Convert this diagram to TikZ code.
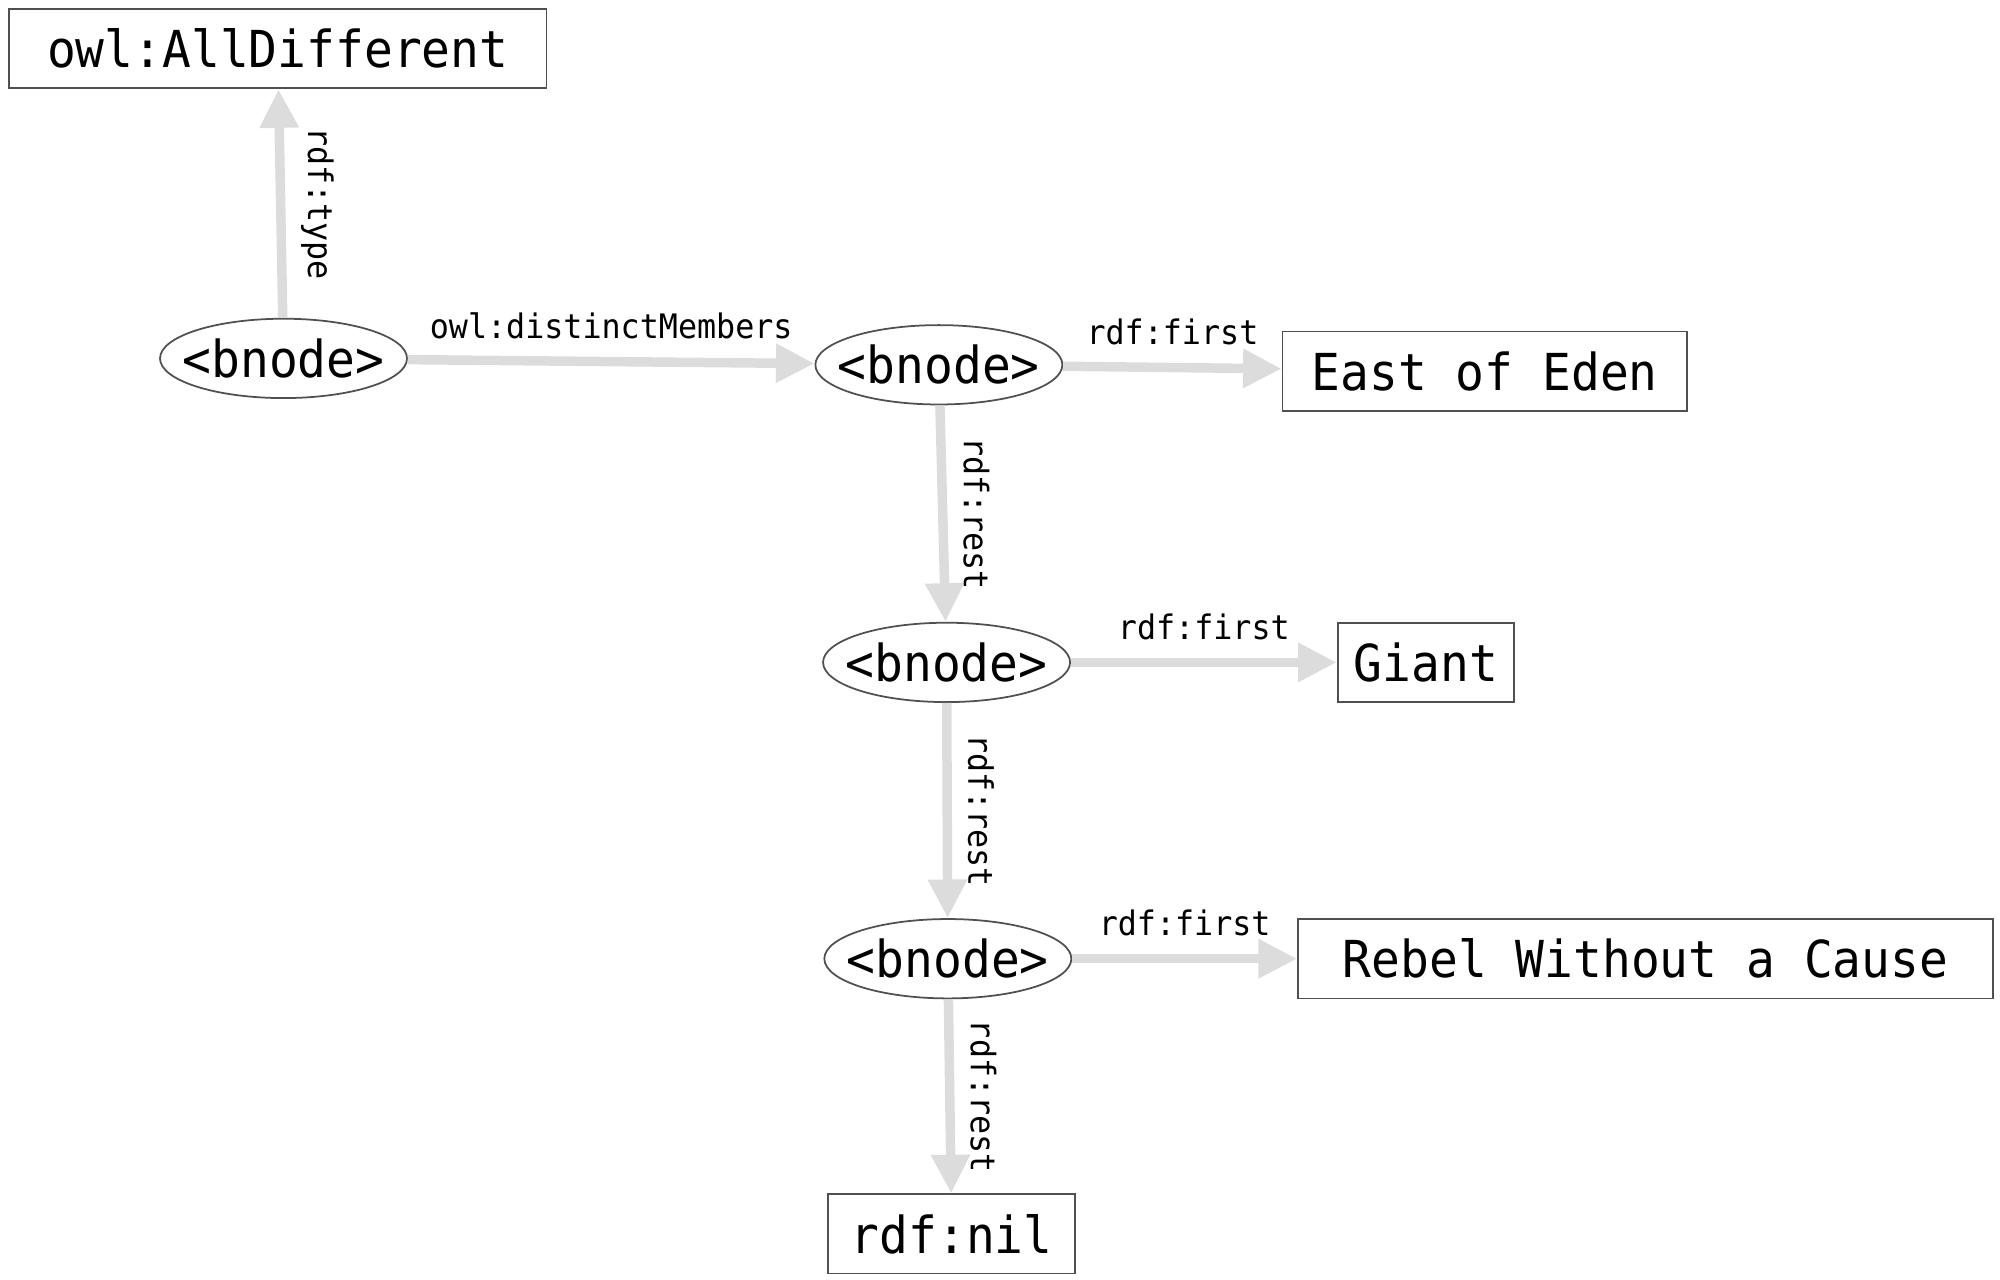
\documentclass[tikz,border=0pt]{standalone}
\usepackage{fontspec}
\newfontfamily\monofam[FakeStretch=0.94]{DejaVu Sans Mono}
\usetikzlibrary{arrows.meta,shapes.geometric}
\definecolor{edgegray}{HTML}{DCDCDC}
\definecolor{bordergray}{HTML}{505050}
\newcommand{\bn}{\makebox[0pt]{<bnode>}}
\begin{document}
\begin{tikzpicture}[x=0.0128cm, y=-0.0128cm,
  box/.style={draw=bordergray, line width=0.5pt, rectangle, inner sep=0pt,
    minimum height=0.7936cm, font={\monofam\fontsize{14.5}{17}\selectfont}},
  bnode/.style={draw=bordergray, line width=0.5pt, ellipse, inner sep=0pt,
    minimum width=2.4704cm, minimum height=0.7936cm,
    font={\monofam\fontsize{14.5}{17}\selectfont}},
  edge/.style={draw=edgegray, line width=2.7pt,
    -{Triangle[length=11pt, width=10.5pt]}},
  hlabel/.style={midway, anchor=south, inner sep=5pt, text=black,
    font={\monofam\fontsize{9.6}{11}\selectfont}},
  vlabel/.style={midway, rotate=-90, anchor=south, inner sep=4.5pt, text=black,
    font={\monofam\fontsize{9.6}{11}\selectfont}}
]
\useasboundingbox (0,0) rectangle (1562.5,1000);

\node[box, minimum width=5.376cm] (alld) at (217,38) {owl:AllDifferent};
\node[bnode] (b1) at (221.5,280) {\bn};
\node[bnode] (b2) at (733.5,285) {\bn};
\node[box, minimum width=4.045cm] (eden) at (1160,290) {East of Eden};
\node[bnode] (b3) at (739.5,517.5) {\bn};
\node[box, minimum width=1.766cm] (giant) at (1114,517.5) {Giant};
\node[bnode] (b4) at (740.5,749) {\bn};
\node[box, minimum width=6.95cm] (rebel) at (1285.5,749) {Rebel Without a Cause};
\node[box, minimum width=2.4704cm] (nil) at (743.5,964) {rdf:nil};

\draw[edge] (b1) -- node[vlabel] {rdf:type} (alld);
\draw[edge] (b1) -- node[hlabel] {owl:distinctMembers} (b2);
\draw[edge] (b2) -- node[hlabel] {rdf:first} (eden);
\draw[edge] (b2) -- node[vlabel] {rdf:rest} (b3);
\draw[edge] (b3) -- node[hlabel] {rdf:first} (giant);
\draw[edge] (b3) -- node[vlabel] {rdf:rest} (b4);
\draw[edge] (b4) -- node[hlabel] {rdf:first} (rebel);
\draw[edge] (b4) -- node[vlabel] {rdf:rest} (nil);
\end{tikzpicture}
\end{document}
